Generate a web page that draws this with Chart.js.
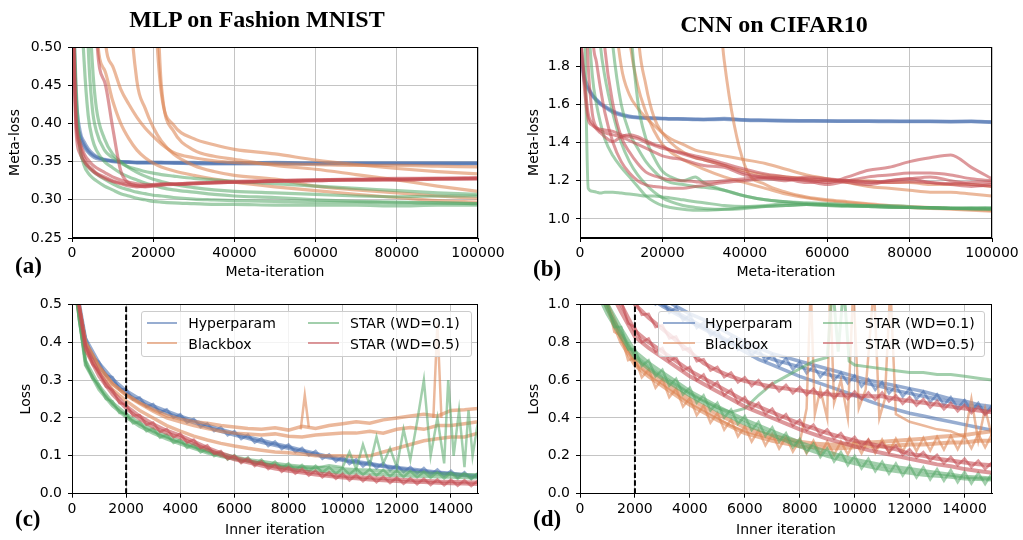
<!DOCTYPE html>
<html><head><meta charset="utf-8">
<script src="https://cdn.jsdelivr.net/npm/chart.js@4.4.1/dist/chart.umd.min.js"></script>
<style>
body{margin:0;background:#fff;}
#page{position:relative;width:1023px;height:540px;overflow:hidden;background:#fff;}
canvas{position:absolute;}
.title{position:absolute;font-family:'Liberation Serif','Times New Roman',serif;font-weight:bold;font-size:24px;line-height:24px;white-space:nowrap;transform:translateX(-50%);color:#000;}
.plabel{position:absolute;font-family:'Liberation Serif','Times New Roman',serif;font-weight:bold;font-size:23px;line-height:23px;color:#000;white-space:nowrap;}
.lbox{position:absolute;background:rgba(255,255,255,0.8);border:1px solid #cccccc;border-radius:3px;box-sizing:border-box;}
.ln{position:absolute;height:2px;}
.tx{position:absolute;font-family:'DejaVu Sans',sans-serif;font-size:14px;line-height:16px;white-space:nowrap;color:#000;}
</style></head>
<body>
<div id="page">
  <canvas id="ca" width="520" height="285" style="left:0px;top:0px;width:520px;height:285px;"></canvas>
  <canvas id="cb" width="513" height="285" style="left:510px;top:0px;width:513px;height:285px;"></canvas>
  <canvas id="cc" width="520" height="250" style="left:0px;top:290px;width:520px;height:250px;"></canvas>
  <canvas id="cd" width="513" height="250" style="left:510px;top:290px;width:513px;height:250px;"></canvas>

  <div class="title" style="left:257px;top:7px;">MLP on Fashion MNIST</div>
  <div class="title" style="left:774px;top:12px;">CNN on CIFAR10</div>
  <div class="plabel" style="left:15px;top:253.6px;">(a)</div>
  <div class="plabel" style="left:533px;top:256.8px;">(b)</div>
  <div class="plabel" style="left:15px;top:506.8px;">(c)</div>
  <div class="plabel" style="left:533px;top:506.8px;">(d)</div>

  <div class="lbox" style="left:140.7px;top:310.7px;width:331px;height:46.6px;"></div>
  <div class="ln" id="lc1" style="left:146.7px;top:321.5px;width:30px;"></div>
  <div class="tx" style="left:188.3px;top:315.3px;">Hyperparam</div>
  <div class="ln" id="lc2" style="left:146.7px;top:342px;width:30px;"></div>
  <div class="tx" style="left:188.3px;top:336.2px;">Blackbox</div>
  <div class="ln" id="lc3" style="left:308.3px;top:321.5px;width:31px;"></div>
  <div class="tx" style="left:350px;top:315.3px;">STAR (WD=0.1)</div>
  <div class="ln" id="lc4" style="left:308.3px;top:342px;width:31px;"></div>
  <div class="tx" style="left:350px;top:336.2px;">STAR (WD=0.5)</div>

  <div class="lbox" style="left:658.3px;top:310.7px;width:326.7px;height:46.6px;"></div>
  <div class="ln" id="ld1" style="left:663.3px;top:321.5px;width:31.7px;"></div>
  <div class="tx" style="left:705px;top:315.3px;">Hyperparam</div>
  <div class="ln" id="ld2" style="left:663.3px;top:342px;width:31.7px;"></div>
  <div class="tx" style="left:705px;top:336.2px;">Blackbox</div>
  <div class="ln" id="ld3" style="left:823px;top:321.5px;width:30px;"></div>
  <div class="tx" style="left:865px;top:315.3px;">STAR (WD=0.1)</div>
  <div class="ln" id="ld4" style="left:823px;top:342px;width:30px;"></div>
  <div class="tx" style="left:865px;top:336.2px;">STAR (WD=0.5)</div>
</div>
<script>
// ---------------- DATA ----------------
const METHODS = ['Hyperparam', 'Blackbox', 'STAR (WD=0.1)', 'STAR (WD=0.5)'];

// Panel (a) MLP on Fashion MNIST, meta-loss vs meta-iteration
const A_X = [0,1000,2000,3000,4000,5000,6000,8000,10000,12000,14000,16000,18000,20000,22000,25000,30000,35000,40000,50000,60000,70000,80000,90000,100000];
const A_X_TICKS = [0,20000,40000,60000,80000,100000];
const A_Y_TICKS = [0.25,0.30,0.35,0.40,0.45,0.50];
const A_HYPER = [
  [0.60,0.42,0.385,0.372,0.364,0.359,0.356,0.353,0.351,0.350,0.350,0.349,0.349,0.349,0.349,0.349,0.349,0.348,0.348,0.348,0.348,0.348,0.348,0.348,0.348],
  [0.62,0.44,0.39,0.376,0.367,0.361,0.357,0.352,0.350,0.349,0.349,0.348,0.348,0.348,0.348,0.348,0.347,0.347,0.347,0.347,0.347,0.347,0.347,0.347,0.347],
  [0.58,0.41,0.38,0.369,0.362,0.357,0.354,0.352,0.351,0.350,0.349,0.349,0.349,0.349,0.349,0.348,0.348,0.348,0.348,0.349,0.348,0.348,0.348,0.348,0.348]
];
const A_BLACKBOX = [
  [0.9,0.9,0.9,0.9,0.9,0.9,0.9,0.9,0.9,0.9,0.9,0.9,0.9,0.60,0.44,0.398,0.38,0.372,0.366,0.36,0.352,0.346,0.341,0.337,0.334],
  [0.9,0.9,0.9,0.9,0.9,0.9,0.9,0.52,0.475,0.445,0.425,0.408,0.394,0.383,0.373,0.362,0.355,0.351,0.349,0.347,0.346,0.345,0.345,0.344,0.343],
  [0.9,0.9,0.9,0.9,0.9,0.9,0.9,0.9,0.9,0.9,0.58,0.455,0.42,0.395,0.377,0.36,0.345,0.337,0.332,0.327,0.318,0.313,0.309,0.305,0.302],
  [0.9,0.9,0.9,0.9,0.9,0.9,0.53,0.47,0.43,0.40,0.38,0.365,0.355,0.348,0.343,0.338,0.332,0.327,0.323,0.317,0.312,0.307,0.303,0.299,0.297],
  [0.9,0.9,0.9,0.9,0.9,0.9,0.9,0.9,0.9,0.9,0.9,0.9,0.9,0.7,0.45,0.39,0.365,0.357,0.353,0.345,0.34,0.333,0.326,0.318,0.311]
];
const A_STAR01 = [
  [0.60,0.45,0.37,0.345,0.335,0.329,0.325,0.318,0.313,0.308,0.305,0.302,0.300,0.298,0.297,0.296,0.295,0.294,0.294,0.293,0.293,0.293,0.292,0.293,0.293],
  [0.60,0.43,0.365,0.35,0.343,0.338,0.334,0.327,0.321,0.316,0.313,0.310,0.308,0.306,0.305,0.303,0.301,0.300,0.299,0.298,0.297,0.297,0.296,0.296,0.295],
  [0.9,0.9,0.6,0.48,0.41,0.38,0.365,0.35,0.342,0.335,0.33,0.326,0.322,0.319,0.316,0.313,0.31,0.307,0.305,0.303,0.300,0.298,0.297,0.296,0.295],
  [0.9,0.9,0.9,0.7,0.5,0.42,0.39,0.365,0.355,0.348,0.343,0.34,0.337,0.335,0.333,0.331,0.328,0.326,0.324,0.321,0.318,0.315,0.312,0.309,0.307],
  [0.9,0.9,0.9,0.9,0.6,0.48,0.42,0.38,0.36,0.35,0.342,0.336,0.331,0.327,0.324,0.32,0.316,0.313,0.311,0.309,0.307,0.305,0.304,0.305,0.305]
];
const A_STAR05 = [
  [0.60,0.40,0.37,0.355,0.345,0.34,0.335,0.33,0.325,0.322,0.320,0.319,0.318,0.319,0.320,0.320,0.321,0.322,0.323,0.324,0.325,0.326,0.326,0.327,0.327],
  [0.62,0.41,0.375,0.36,0.352,0.346,0.342,0.336,0.330,0.326,0.323,0.321,0.320,0.320,0.321,0.321,0.322,0.323,0.324,0.325,0.326,0.327,0.328,0.328,0.329],
  [0.9,0.9,0.9,0.9,0.9,0.9,0.52,0.455,0.395,0.338,0.322,0.318,0.317,0.318,0.319,0.320,0.321,0.322,0.323,0.324,0.325,0.326,0.326,0.327,0.328],
  [0.60,0.39,0.36,0.35,0.343,0.338,0.334,0.328,0.324,0.321,0.318,0.317,0.318,0.319,0.320,0.321,0.322,0.323,0.323,0.325,0.326,0.326,0.327,0.328,0.328]
];

// Panel (b) CNN on CIFAR10, meta-loss vs meta-iteration
const B_X = [0,1000,2000,3000,4000,5000,6000,8000,10000,12000,14000,16000,18000,20000,22000,25000,28000,30000,35000,40000,45000,50000,55000,60000,65000,70000,75000,80000,85000,90000,95000,100000];
const B_X_TICKS = [0,20000,40000,60000,80000,100000];
const B_Y_TICKS = [1.0,1.2,1.4,1.6,1.8];
const B_HYPER = [
  [1.95,1.73,1.68,1.645,1.62,1.60,1.585,1.558,1.543,1.534,1.53,1.527,1.526,1.525,1.523,1.522,1.52,1.52,1.522,1.517,1.515,1.513,1.512,1.512,1.511,1.511,1.51,1.51,1.51,1.509,1.51,1.505],
  [1.9,1.75,1.69,1.65,1.625,1.605,1.59,1.565,1.548,1.538,1.532,1.53,1.528,1.526,1.524,1.524,1.522,1.521,1.526,1.519,1.517,1.515,1.514,1.513,1.513,1.512,1.512,1.511,1.511,1.51,1.511,1.508]
];
const B_BLACKBOX = [
  [3,3,3,3,3,3,3,2.2,1.8,1.65,1.58,1.53,1.49,1.45,1.42,1.39,1.36,1.35,1.33,1.31,1.29,1.26,1.23,1.21,1.19,1.17,1.16,1.15,1.14,1.14,1.13,1.12],
  [3,3,3,3,3,3,3,3,2.5,1.95,1.7,1.56,1.46,1.39,1.35,1.31,1.28,1.26,1.22,1.19,1.16,1.13,1.11,1.095,1.085,1.075,1.065,1.06,1.055,1.05,1.045,1.04],
  [3,3,3,3,3,3,3,3,3,3,2.0,1.7,1.53,1.45,1.4,1.35,1.32,1.31,1.28,1.25,1.23,1.22,1.21,1.2,1.2,1.2,1.19,1.19,1.18,1.18,1.18,1.17],
  [3,3,3,3,3,3,3,3,3,3,3,3,3,3,3,3,3,3,1.83,1.28,1.18,1.14,1.115,1.1,1.09,1.08,1.07,1.065,1.06,1.055,1.05,1.045]
];
const B_STAR01 = [
  [3,2.2,1.16,1.145,1.14,1.135,1.14,1.14,1.135,1.13,1.125,1.12,1.12,1.115,1.11,1.10,1.09,1.085,1.07,1.065,1.07,1.08,1.075,1.07,1.065,1.065,1.06,1.06,1.055,1.055,1.05,1.05],
  [3,3,2.1,1.75,1.6,1.5,1.42,1.33,1.27,1.22,1.17,1.12,1.09,1.07,1.06,1.05,1.045,1.045,1.05,1.06,1.065,1.07,1.075,1.07,1.07,1.065,1.06,1.06,1.058,1.055,1.055,1.05],
  [3,3,3,3,2.2,1.9,1.75,1.55,1.4,1.3,1.23,1.18,1.14,1.11,1.09,1.07,1.06,1.055,1.05,1.055,1.065,1.07,1.075,1.075,1.07,1.065,1.065,1.06,1.06,1.055,1.055,1.055],
  [3,3,3,3,3,3,3,3,3,2.1,1.62,1.42,1.32,1.25,1.22,1.2,1.22,1.19,1.15,1.12,1.1,1.09,1.08,1.075,1.07,1.07,1.065,1.06,1.06,1.055,1.06,1.055],
  [3,3,3,3,3,3,2.4,1.9,1.6,1.45,1.37,1.3,1.25,1.21,1.19,1.18,1.17,1.165,1.15,1.12,1.1,1.09,1.085,1.08,1.075,1.07,1.07,1.065,1.06,1.06,1.055,1.06]
];
const B_STAR05 = [
  [2.0,1.7,1.52,1.49,1.475,1.47,1.465,1.458,1.44,1.43,1.42,1.40,1.385,1.37,1.36,1.345,1.33,1.32,1.29,1.26,1.235,1.22,1.21,1.205,1.2,1.195,1.19,1.195,1.19,1.185,1.19,1.19],
  [2.0,1.75,1.55,1.5,1.47,1.45,1.43,1.405,1.43,1.44,1.43,1.41,1.39,1.38,1.36,1.34,1.32,1.31,1.28,1.24,1.215,1.21,1.205,1.19,1.22,1.255,1.27,1.30,1.32,1.335,1.27,1.21],
  [3,3,3,2.0,1.82,1.68,1.56,1.40,1.30,1.24,1.2,1.178,1.17,1.165,1.16,1.16,1.17,1.175,1.19,1.2,1.21,1.2,1.22,1.21,1.2,1.19,1.2,1.21,1.22,1.2,1.18,1.17],
  [3,3,3,3,3,2.2,1.9,1.6,1.43,1.35,1.29,1.245,1.225,1.213,1.205,1.2,1.195,1.19,1.2,1.21,1.215,1.21,1.2,1.18,1.2,1.22,1.23,1.24,1.24,1.23,1.21,1.2],
  [3,2.4,1.8,1.55,1.48,1.46,1.45,1.44,1.43,1.41,1.39,1.37,1.35,1.33,1.32,1.31,1.29,1.28,1.27,1.23,1.22,1.21,1.19,1.2,1.19,1.18,1.2,1.21,1.19,1.18,1.17,1.18]
];

// Inner-iteration grids for panels (c) and (d)
const FINE_X = [0,250,500,750,1000,1250,1500,1750,2000,2250,2500,2750,3000,3250,3500,3750,4000,4250,4500,4750,5000,5250,5500,5750,6000,6250,6500,6750,7000,7250,7500,7750,8000,8250,8500,8750,9000,9250,9500,9750,10000,10250,10500,10750,11000,11250,11500,11750,12000,12250,12500,12750,13000,13250,13500,13750,14000,14250,14500,14750,15000];

// Panel (c) MLP inner loss vs inner iteration
const C_X = [0,200,500,1000,1500,2000,2500,3000,3500,4000,4500,5000,5500,6000,6500,7000,7500,8000,8500,9000,9500,10000,10500,11000,11500,12000,12500,13000,13500,14000,14500,15000];
const C_X_TICKS = [0,2000,4000,6000,8000,10000,12000,14000];
const C_Y_TICKS = [0.0,0.1,0.2,0.3,0.4,0.5];
const C_HYPER = [
  [0.75,0.52,0.40,0.335,0.295,0.265,0.242,0.226,0.212,0.2,0.188,0.176,0.165,0.155,0.146,0.136,0.128,0.12,0.111,0.103,0.095,0.088,0.082,0.077,0.072,0.067,0.062,0.058,0.055,0.052,0.048,0.045],
  [0.75,0.53,0.41,0.345,0.303,0.272,0.25,0.232,0.218,0.205,0.193,0.181,0.17,0.16,0.15,0.141,0.132,0.124,0.115,0.106,0.098,0.091,0.085,0.08,0.074,0.069,0.065,0.061,0.057,0.054,0.05,0.047]
];
const C_HYPER_ZZ = [0.75,0.5,0.413,0.36,0.348,0.312,0.308,0.276,0.276,0.249,0.254,0.23,0.237,0.214,0.223,0.2,0.21,0.188,0.198,0.176,0.186,0.165,0.176,0.154,0.165,0.144,0.156,0.135,0.146,0.126,0.138,0.118,0.13,0.11,0.121,0.101,0.113,0.092,0.104,0.085,0.098,0.078,0.091,0.072,0.086,0.067,0.081,0.062,0.076,0.057,0.071,0.053,0.068,0.05,0.064,0.047,0.061,0.043,0.057,0.04,0.054];
const C_BLACKBOX = [
  [0.75,0.52,0.40,0.335,0.29,0.262,0.24,0.222,0.207,0.197,0.19,0.186,0.18,0.176,0.172,0.17,0.174,0.168,0.178,0.172,0.18,0.185,0.19,0.186,0.195,0.2,0.205,0.21,0.205,0.22,0.222,0.225],
  [0.75,0.52,0.40,0.335,0.29,0.26,0.238,0.218,0.2,0.19,0.18,0.172,0.165,0.16,0.158,0.155,0.158,0.152,0.15,0.155,0.158,0.16,0.16,0.165,0.16,0.17,0.175,0.17,0.18,0.18,0.185,0.19],
  [0.75,0.5,0.38,0.32,0.275,0.245,0.22,0.2,0.18,0.165,0.152,0.142,0.133,0.126,0.12,0.115,0.11,0.108,0.105,0.1,0.1,0.1,0.098,0.1,0.11,0.12,0.13,0.14,0.145,0.15,0.15,0.16]
];
const C_BB_SPIKE1_X = [8450,8600,8750];
const C_BB_SPIKE1_Y = [0.17,0.26,0.175];
const C_BB_SPIKE2_X = [13350,13500,13650];
const C_BB_SPIKE2_Y = [0.2,0.45,0.2];
const C_STAR01 = [
  [0.75,0.5,0.34,0.275,0.232,0.202,0.178,0.16,0.145,0.132,0.12,0.108,0.099,0.092,0.086,0.08,0.074,0.068,0.065,0.062,0.058,0.056,0.055,0.052,0.05,0.048,0.047,0.046,0.045,0.044,0.043,0.042],
  [0.75,0.5,0.35,0.285,0.24,0.21,0.186,0.168,0.152,0.138,0.126,0.114,0.105,0.097,0.09,0.085,0.08,0.075,0.072,0.07,0.067,0.065,0.063,0.062,0.06,0.058,0.056,0.055,0.053,0.052,0.05,0.05]
];
const C_STAR01_ZZ = [0.75,0.46,0.353,0.305,0.288,0.25,0.244,0.213,0.214,0.186,0.19,0.165,0.172,0.148,0.156,0.134,0.143,0.121,0.131,0.109,0.119,0.099,0.11,0.09,0.102,0.083,0.096,0.077,0.09,0.072,0.085,0.067,0.08,0.062,0.076,0.059,0.074,0.056,0.07,0.053,0.068,0.051,0.067,0.05,0.065,0.048,0.063,0.046,0.061,0.044,0.06,0.043,0.058,0.042,0.057,0.04,0.056,0.039,0.054,0.038,0.054];
const C_STAR01_SPIKY_X = [0,200,500,1000,1500,2000,2500,3000,3500,4000,5000,6000,7000,8000,9000,9500,10000,10250,10500,10750,11000,11250,11500,11750,12000,12250,12500,12750,13000,13250,13500,13750,13900,14100,14300,14500,14650,14800,15000];
const C_STAR01_SPIKY_Y = [0.75,0.5,0.34,0.28,0.236,0.205,0.182,0.163,0.148,0.135,0.11,0.092,0.08,0.072,0.068,0.075,0.07,0.11,0.065,0.13,0.075,0.15,0.08,0.12,0.07,0.17,0.09,0.19,0.3,0.1,0.2,0.08,0.3,0.1,0.22,0.07,0.22,0.1,0.19];
const C_STAR05 = [
  [0.75,0.52,0.38,0.31,0.262,0.225,0.197,0.176,0.16,0.148,0.132,0.117,0.102,0.09,0.082,0.074,0.066,0.06,0.055,0.05,0.046,0.042,0.04,0.037,0.035,0.033,0.031,0.03,0.028,0.027,0.026,0.025],
  [0.75,0.53,0.39,0.32,0.27,0.232,0.205,0.184,0.167,0.154,0.138,0.122,0.108,0.096,0.087,0.079,0.071,0.065,0.06,0.055,0.051,0.047,0.045,0.042,0.04,0.038,0.036,0.035,0.033,0.032,0.031,0.03]
];
const C_STAR05_ZZ = [0.75,0.5,0.393,0.342,0.323,0.283,0.274,0.239,0.236,0.206,0.208,0.182,0.188,0.163,0.171,0.149,0.159,0.135,0.143,0.12,0.128,0.105,0.113,0.091,0.101,0.081,0.093,0.073,0.085,0.065,0.077,0.058,0.071,0.053,0.066,0.048,0.061,0.043,0.057,0.039,0.053,0.035,0.05,0.033,0.048,0.03,0.045,0.028,0.043,0.026,0.041,0.025,0.04,0.023,0.038,0.022,0.037,0.021,0.036,0.02,0.035];
const C_META_STEPS = 2000;

// Panel (d) CNN inner loss vs inner iteration
const D_X = [0,500,1000,1500,2000,2500,3000,3500,4000,4500,5000,5500,6000,6500,7000,7500,8000,8500,9000,9500,10000,10500,11000,11500,12000,12500,13000,13500,14000,14500,15000];
const D_X_TICKS = [0,2000,4000,6000,8000,10000,12000,14000];
const D_Y_TICKS = [0.0,0.2,0.4,0.6,0.8,1.0];
const D_HYPER = [
  [1.5,1.4,1.3,1.22,1.15,1.09,1.03,0.99,0.95,0.92,0.88,0.84,0.8,0.77,0.74,0.72,0.7,0.68,0.66,0.64,0.62,0.6,0.585,0.57,0.555,0.54,0.52,0.5,0.49,0.47,0.46],
  [1.45,1.35,1.25,1.17,1.1,1.05,1.0,0.96,0.92,0.88,0.84,0.8,0.77,0.74,0.71,0.69,0.67,0.65,0.63,0.615,0.6,0.58,0.565,0.545,0.53,0.515,0.5,0.485,0.47,0.455,0.44],
  [1.45,1.35,1.25,1.16,1.09,1.04,0.99,0.95,0.91,0.87,0.83,0.79,0.75,0.71,0.68,0.65,0.62,0.595,0.57,0.545,0.52,0.49,0.465,0.445,0.425,0.41,0.395,0.38,0.365,0.35,0.335]
];
const D_HYPER_ZZ = [1.475,1.375,1.375,1.275,1.275,1.185,1.195,1.11,1.125,1.05,1.075,1.0,1.025,0.955,0.985,0.915,0.945,0.875,0.905,0.835,0.865,0.795,0.825,0.76,0.795,0.73,0.765,0.7,0.735,0.675,0.715,0.655,0.695,0.635,0.675,0.615,0.655,0.598,0.64,0.583,0.625,0.565,0.605,0.548,0.59,0.53,0.57,0.513,0.555,0.498,0.54,0.483,0.525,0.468,0.51,0.453,0.495,0.438,0.48,0.423,0.465];
const D_BLACKBOX = [
  [1.4,1.15,0.98,0.8,0.68,0.62,0.57,0.52,0.47,0.43,0.39,0.355,0.32,0.3,0.28,0.265,0.25,0.245,0.24,0.24,0.245,0.25,0.25,0.255,0.26,0.26,0.265,0.27,0.27,0.28,0.28],
  [1.45,1.2,1.0,0.83,0.71,0.65,0.6,0.55,0.5,0.46,0.42,0.385,0.35,0.325,0.305,0.29,0.275,0.265,0.26,0.26,0.265,0.27,0.275,0.28,0.285,0.29,0.3,0.305,0.31,0.32,0.33]
];
const D_BLACKBOX_ZZ = [1.435,1.24,1.185,1.03,1.015,0.855,0.835,0.705,0.715,0.615,0.655,0.56,0.605,0.51,0.555,0.46,0.505,0.415,0.465,0.375,0.425,0.338,0.39,0.303,0.355,0.275,0.335,0.255,0.315,0.238,0.3,0.223,0.285,0.213,0.28,0.208,0.275,0.205,0.275,0.208,0.28,0.213,0.285,0.215,0.285,0.218,0.29,0.223,0.295,0.225,0.295,0.228,0.3,0.233,0.305,0.235,0.305,0.24,0.315,0.245,0.315];
const D_BB_WILD_X = [0,500,1000,1500,2000,2500,3000,3500,4000,4500,5000,5500,6000,6500,7000,7500,8000,8250,8400,8550,8750,9000,9100,9250,9500,9750,9950,10150,10400,10700,10900,11100,11300,11500,12000,12500,13000,13500,14000,14250,14500,14750,15000];
const D_BB_WILD_Y = [1.42,1.17,0.99,0.81,0.69,0.63,0.58,0.53,0.48,0.44,0.4,0.36,0.33,0.31,0.29,0.28,0.27,0.45,1.1,0.42,0.55,0.4,1.1,0.48,0.6,0.4,1.1,0.45,0.55,1.1,0.4,0.5,1.1,0.42,0.38,0.36,0.34,0.33,0.3,0.5,0.28,0.45,0.3];
const D_STAR01 = [
  [1.3,1.15,1.0,0.87,0.75,0.69,0.64,0.59,0.54,0.5,0.46,0.425,0.39,0.36,0.33,0.3,0.27,0.245,0.22,0.2,0.18,0.165,0.15,0.14,0.13,0.12,0.11,0.1,0.09,0.085,0.08],
  [1.25,1.1,0.95,0.83,0.72,0.66,0.61,0.565,0.52,0.48,0.44,0.405,0.37,0.34,0.31,0.28,0.25,0.225,0.2,0.18,0.16,0.145,0.13,0.12,0.11,0.1,0.095,0.09,0.08,0.078,0.075]
];
const D_STAR01_ZZ = [1.31,1.17,1.15,1.015,1.0,0.88,0.88,0.762,0.765,0.675,0.705,0.62,0.655,0.57,0.608,0.524,0.56,0.48,0.52,0.44,0.48,0.402,0.445,0.368,0.41,0.335,0.38,0.305,0.35,0.275,0.32,0.245,0.29,0.218,0.265,0.193,0.24,0.17,0.22,0.15,0.2,0.133,0.185,0.118,0.17,0.105,0.16,0.095,0.15,0.085,0.14,0.075,0.13,0.068,0.125,0.06,0.115,0.053,0.11,0.05,0.108];
const D_STAR01_DIV_X = [0,500,1000,1500,2000,2500,3000,3500,4000,4500,5000,5500,6000,6500,7000,7500,8000,8500,9000,9200,9400,9600,9800,10000,10500,11000,11500,12000,12500,13000,13500,14000,14500,15000];
const D_STAR01_DIV_Y = [1.28,1.12,0.97,0.85,0.73,0.67,0.62,0.575,0.53,0.49,0.455,0.43,0.45,0.52,0.58,0.62,0.66,0.7,0.72,1.1,0.75,1.1,0.7,0.68,0.67,0.66,0.65,0.64,0.64,0.63,0.63,0.62,0.61,0.6];
const D_STAR05 = [
  [1.6,1.35,1.15,1.0,0.86,0.8,0.75,0.7,0.65,0.61,0.57,0.53,0.49,0.46,0.43,0.4,0.37,0.345,0.32,0.3,0.28,0.265,0.25,0.235,0.21,0.2,0.185,0.175,0.165,0.155,0.15],
  [1.55,1.3,1.1,0.96,0.83,0.77,0.72,0.67,0.62,0.58,0.54,0.5,0.46,0.43,0.4,0.37,0.34,0.315,0.29,0.27,0.25,0.23,0.215,0.2,0.185,0.17,0.155,0.145,0.13,0.12,0.11],
  [1.8,1.5,1.3,1.12,1.0,0.93,0.87,0.81,0.75,0.69,0.65,0.62,0.595,0.58,0.565,0.555,0.545,0.535,0.525,0.52,0.52,0.515,0.515,0.5,0.49,0.48,0.47,0.46,0.45,0.44,0.43]
];
const D_STAR05_ZZ = [1.62,1.45,1.37,1.22,1.17,1.05,1.02,0.9,0.88,0.8,0.82,0.75,0.77,0.7,0.72,0.65,0.67,0.6,0.63,0.56,0.59,0.52,0.55,0.48,0.51,0.45,0.48,0.42,0.45,0.39,0.42,0.36,0.39,0.335,0.365,0.31,0.34,0.29,0.32,0.27,0.3,0.25,0.285,0.235,0.27,0.22,0.255,0.205,0.235,0.19,0.22,0.175,0.205,0.16,0.195,0.15,0.185,0.14,0.175,0.13,0.165];
const D_STAR05_UPPER_ZZ = [1.82,1.63,1.52,1.38,1.32,1.19,1.14,1.04,1.02,0.945,0.95,0.88,0.89,0.82,0.83,0.76,0.77,0.7,0.71,0.65,0.67,0.615,0.64,0.588,0.615,0.568,0.6,0.553,0.585,0.54,0.575,0.53,0.565,0.52,0.555,0.51,0.545,0.503,0.54,0.5,0.54,0.498,0.535,0.495,0.535,0.488,0.52,0.475,0.51,0.465,0.5,0.455,0.49,0.445,0.48,0.435,0.47,0.425,0.46,0.415,0.45];
const D_META_STEPS = 2000;

// ---------------- STYLE ----------------
const COL = {
  blue: 'rgba(76,114,176,0.58)',
  orange: 'rgba(221,132,82,0.58)',
  green: 'rgba(85,168,104,0.55)',
  red: 'rgba(196,78,82,0.58)'
};
const FONT = {family: "'DejaVu Sans', sans-serif", size: 14};

['lc1','ld1'].forEach(id => document.getElementById(id).style.background = COL.blue);
['lc2','ld2'].forEach(id => document.getElementById(id).style.background = COL.orange);
['lc3','ld3'].forEach(id => document.getElementById(id).style.background = COL.green);
['lc4','ld4'].forEach(id => document.getElementById(id).style.background = COL.red);

function ser(xs, ys, color, w, order, smooth) {
  return {
    data: xs.map((x, i) => ({x: x, y: ys[i]})),
    borderColor: color, backgroundColor: color, borderWidth: w,
    pointRadius: 0, fill: false, order: order, clip: 0,
    cubicInterpolationMode: smooth ? 'monotone' : 'default', tension: 0
  };
}
function group(xs, runs, color, w, order, smooth) {
  return runs.map(r => ser(xs, r, color, w, order, smooth));
}
function dashLine(x, y0, y1) {
  return {data: [{x: x, y: y0}, {x: x, y: y1}], borderColor: '#000', borderWidth: 2,
    borderDash: [5.5, 2.4], pointRadius: 0, fill: false, order: 0, clip: 0};
}

const framePlugin = {
  id: 'frame',
  afterDraw(chart) {
    const {ctx, chartArea: a} = chart;
    ctx.save();
    ctx.strokeStyle = '#000';
    ctx.lineWidth = 1;
    const l = Math.round(a.left) + 0.5, t = Math.round(a.top) + 0.5;
    const r = Math.round(a.right) - 0.5, b = Math.round(a.bottom) - 0.5;
    ctx.strokeRect(l, t, r - l, b - t);
    ctx.restore();
  }
};

function makeChart(id, o) {
  return new Chart(document.getElementById(id), {
    type: 'line',
    data: {datasets: o.datasets},
    options: {
      responsive: false, animation: false, devicePixelRatio: 1,
      layout: {padding: o.pad},
      plugins: {legend: {display: false}, tooltip: {enabled: false}},
      scales: {
        x: {
          type: 'linear', min: o.xMin, max: o.xMax,
          afterBuildTicks: s => { s.ticks = o.xTicks.map(v => ({value: v})); },
          afterFit: s => { s.height = o.xAxisH; },
          ticks: {callback: v => String(v), font: FONT, color: '#000', padding: 3, autoSkip: false, maxRotation: 0},
          grid: {color: '#c4c4c4', lineWidth: 1, tickColor: '#000', tickLength: 4, drawTicks: true},
          border: {display: true, color: '#000', width: 1},
          title: {display: true, text: o.xTitle, font: FONT, color: '#000', padding: {top: 0, bottom: o.xTitlePad}}
        },
        y: {
          type: 'linear', min: o.yMin, max: o.yMax,
          afterBuildTicks: s => { s.ticks = o.yTicks.map(v => ({value: v})); },
          afterFit: s => { s.width = o.yAxisW; },
          ticks: {callback: v => Number(v).toFixed(o.yDec), font: FONT, color: '#000', padding: 6, autoSkip: false},
          grid: {color: '#c4c4c4', lineWidth: 1, tickColor: '#000', tickLength: 4, drawTicks: true},
          border: {display: true, color: '#000', width: 1},
          title: {display: true, text: o.yTitle, font: FONT, color: '#000', padding: {top: o.yTitlePad, bottom: 0}}
        }
      }
    },
    plugins: [framePlugin]
  });
}

// (a)
makeChart('ca', {
  datasets: [].concat(
    group(A_X, A_STAR05, COL.red, 3.2, 1, true),
    group(A_X, A_STAR01, COL.green, 3.2, 2, true),
    group(A_X, A_BLACKBOX, COL.orange, 3.2, 3, true),
    group(A_X, A_HYPER, COL.blue, 3.2, 4, true)
  ),
  xMin: 0, xMax: 100000, xTicks: A_X_TICKS, yMin: 0.25, yMax: 0.5, yTicks: A_Y_TICKS, yDec: 2,
  xTitle: 'Meta-iteration', yTitle: 'Meta-loss',
  pad: {left: 0, top: 47, right: 42, bottom: 0}, yAxisW: 72, xAxisH: 47, xTitlePad: 4.6, yTitlePad: 7.1
});

// (b)
makeChart('cb', {
  datasets: [].concat(
    group(B_X, B_STAR05, COL.red, 3, 1, true),
    group(B_X, B_STAR01, COL.green, 3, 2, true),
    group(B_X, B_BLACKBOX, COL.orange, 3, 3, true),
    group(B_X, B_HYPER, COL.blue, 3.5, 4, true)
  ),
  xMin: 0, xMax: 100000, xTicks: B_X_TICKS, yMin: 0.9, yMax: 1.9, yTicks: B_Y_TICKS, yDec: 1,
  xTitle: 'Meta-iteration', yTitle: 'Meta-loss',
  pad: {left: 0, top: 47, right: 31, bottom: 0}, yAxisW: 70, xAxisH: 47, xTitlePad: 4.6, yTitlePad: 15.6
});

// (c)
makeChart('cc', {
  datasets: [].concat(
    [dashLine(C_META_STEPS, 0, 0.5)],
    group(C_X, C_STAR05, COL.red, 3.5, 1, false),
    [ser(FINE_X, C_STAR05_ZZ, COL.red, 2.5, 1, false)],
    group(C_X, C_STAR01, COL.green, 3.5, 2, false),
    [ser(FINE_X, C_STAR01_ZZ, COL.green, 2.5, 2, false),
     ser(C_STAR01_SPIKY_X, C_STAR01_SPIKY_Y, COL.green, 2.5, 2, false)],
    group(C_X, C_BLACKBOX, COL.orange, 3.5, 3, false),
    [ser(C_BB_SPIKE1_X, C_BB_SPIKE1_Y, COL.orange, 2.5, 3, false),
     ser(C_BB_SPIKE2_X, C_BB_SPIKE2_Y, COL.orange, 2.5, 3, false)],
    group(C_X, C_HYPER, COL.blue, 3.5, 4, false),
    [ser(FINE_X, C_HYPER_ZZ, COL.blue, 2.5, 4, false)]
  ),
  xMin: 0, xMax: 15000, xTicks: C_X_TICKS, yMin: 0, yMax: 0.5, yTicks: C_Y_TICKS, yDec: 1,
  xTitle: 'Inner iteration', yTitle: 'Loss',
  pad: {left: 0, top: 12.7, right: 42, bottom: 0}, yAxisW: 72, xAxisH: 46.3, xTitlePad: 1.6, yTitlePad: 17.6
});

// (d)
makeChart('cd', {
  datasets: [].concat(
    [dashLine(D_META_STEPS, 0, 1.0)],
    group(D_X, D_STAR05, COL.red, 4, 1, false),
    [ser(FINE_X, D_STAR05_ZZ, COL.red, 2.5, 1, false),
     ser(FINE_X, D_STAR05_UPPER_ZZ, COL.red, 2.5, 1, false)],
    group(D_X, D_STAR01, COL.green, 4, 2, false),
    [ser(FINE_X, D_STAR01_ZZ, COL.green, 2.5, 2, false),
     ser(D_STAR01_DIV_X, D_STAR01_DIV_Y, COL.green, 3, 2, false)],
    group(D_X, D_BLACKBOX, COL.orange, 4, 3, false),
    [ser(FINE_X, D_BLACKBOX_ZZ, COL.orange, 2.5, 3, false),
     ser(D_BB_WILD_X, D_BB_WILD_Y, COL.orange, 2.5, 3, false)],
    group(D_X, D_HYPER, COL.blue, 3.5, 4, false),
    [ser(FINE_X, D_HYPER_ZZ, COL.blue, 2.5, 4, false)]
  ),
  xMin: 0, xMax: 15000, xTicks: D_X_TICKS, yMin: 0, yMax: 1.0, yTicks: D_Y_TICKS, yDec: 1,
  xTitle: 'Inner iteration', yTitle: 'Loss',
  pad: {left: 0, top: 12.7, right: 31, bottom: 0}, yAxisW: 70, xAxisH: 46.3, xTitlePad: 1.6, yTitlePad: 15.6
});
</script>
</body></html>
